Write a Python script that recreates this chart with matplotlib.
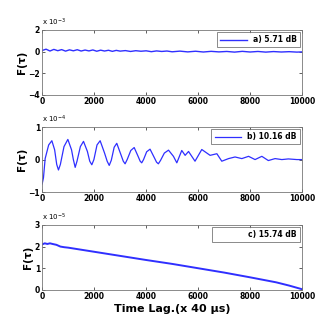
import matplotlib
matplotlib.use("Agg")
import matplotlib.pyplot as plt
from matplotlib.ticker import FixedLocator

# a) 5.71 dB : small noisy trace around zero (x 10^-3)
lag_a = [0, 150, 300, 450, 600, 750, 900, 1050, 1200, 1350, 1500, 1650, 1800,
         1950, 2100, 2250, 2400, 2550, 2700, 2850, 3000, 3200, 3400, 3600, 3800,
         4000, 4200, 4400, 4600, 4800, 5000, 5300, 5600, 5900, 6200, 6500, 6800,
         7100, 7400, 7700, 8000, 8300, 8600, 8900, 9200, 9500, 9800, 10000]
f_a = [0.10, 0.22, 0.05, 0.20, 0.08, 0.18, 0.04, 0.16, 0.07, 0.17, 0.05, 0.14,
       0.06, 0.15, 0.03, 0.13, 0.05, 0.12, 0.02, 0.11, 0.04, 0.09, 0.01, 0.08,
       0.03, 0.07, -0.01, 0.06, 0.01, 0.05, -0.02, 0.04, -0.03, 0.03, -0.04,
       0.02, -0.03, 0.01, -0.05, 0.02, -0.04, 0.01, -0.05, 0.00, -0.04, -0.01,
       -0.05, -0.03]

# b) 10.16 dB : damped oscillation (x 10^-4)
lag_b = [0, 50, 115, 250, 373, 480, 560, 627, 700, 840, 988, 1130, 1200, 1270,
         1340, 1470, 1590, 1740, 1830, 1910, 1990, 2110, 2230, 2400, 2500, 2580,
         2660, 2770, 2870, 3030, 3120, 3190, 3270, 3410, 3540, 3690, 3770, 3830,
         3900, 4020, 4150, 4320, 4400, 4470, 4550, 4700, 4860, 5050, 5180, 5370,
         5500, 5630, 5880, 6140, 6460, 6720, 6910, 7170, 7420, 7680, 7940, 8190,
         8450, 8700, 8960, 9220, 9470, 9800, 10000]
f_b = [-0.75, -0.56, 0.03, 0.45, 0.58, 0.30, -0.15, -0.32, -0.15, 0.40, 0.62,
       0.30, 0.00, -0.24, -0.05, 0.40, 0.56, 0.25, -0.05, -0.16, 0.00, 0.45,
       0.58, 0.20, -0.05, -0.18, -0.02, 0.38, 0.50, 0.15, -0.05, -0.13, 0.00,
       0.28, 0.37, 0.10, -0.05, -0.10, 0.00, 0.24, 0.32, 0.05, -0.08, -0.13,
       -0.03, 0.20, 0.29, 0.10, -0.10, 0.28, 0.13, 0.25, -0.05, 0.31, 0.13,
       0.18, -0.05, 0.03, 0.08, 0.03, 0.10, 0.00, 0.10, -0.03, 0.03, 0.00,
       0.02, 0.00, 0.00]

# c) 15.74 dB : near-linear decay (x 10^-5)
lag_c = [0, 100, 200, 300, 400, 550, 700, 850, 1000, 2000, 3000, 4000, 5000,
         6000, 7000, 8000, 9000, 9500, 10000]
f_c = [2.10, 2.15, 2.12, 2.15, 2.12, 2.08, 2.00, 1.97, 1.95, 1.76, 1.57,
       1.38, 1.20, 1.00, 0.80, 0.58, 0.35, 0.20, 0.03]

panels = [
    (lag_a, f_a, "a) 5.71 dB", (-4, 2), [-4, -2, 0, 2], r"x 10$^{-3}$", 1.0),
    (lag_b, f_b, "b) 10.16 dB", (-1, 1), [-1, 0, 1], r"x 10$^{-4}$", 0.9),
    (lag_c, f_c, "c) 15.74 dB", (0, 3), [0, 1, 2, 3], r"x 10$^{-5}$", 1.4),
]

fig = plt.figure(figsize=(3.32, 3.25), dpi=100)
bottoms = [0.708, 0.409, 0.108]

for (x, y, label, ylim, yticks, offset, lw), b in zip(panels, bottoms):
    ax = fig.add_axes([0.127, b, 0.783, 0.2])
    ax.plot(x, y, color="#2f2fff", lw=lw, label=label)
    ax.set_xlim(0, 10000)
    ax.set_ylim(*ylim)
    ax.xaxis.set_major_locator(FixedLocator([0, 2000, 4000, 6000, 8000, 10000]))
    ax.yaxis.set_major_locator(FixedLocator(yticks))
    ax.tick_params(direction="in", length=2, width=0.6, top=True, right=True,
                   labelsize=5.5, pad=1.5, colors="#444444", labelcolor="black")
    for t in ax.get_xticklabels() + ax.get_yticklabels():
        t.set_fontweight("bold")
    for s in ax.spines.values():
        s.set_linewidth(0.6)
        s.set_color("#777777")
    ax.set_ylabel("F(τ)", fontsize=7.5, fontweight="bold", labelpad=1)
    ax.text(0.0, 1.03, offset, transform=ax.transAxes, fontsize=5, va="bottom")
    leg = ax.legend(loc="upper right", frameon=True, fancybox=False,
                    borderpad=0.4, handlelength=3.5, borderaxespad=0.3,
                    prop={"size": 5.5, "weight": "bold"})
    leg.get_frame().set_edgecolor("#555555")
    leg.get_frame().set_linewidth(0.6)
    if label.startswith("c"):
        leg.get_lines()[0].set_visible(False)
    if b == bottoms[-1]:
        ax.set_xlabel("Time Lag.(x 40 μs)", fontsize=8, fontweight="bold", labelpad=2)

fig.savefig("out.png", dpi=100)
